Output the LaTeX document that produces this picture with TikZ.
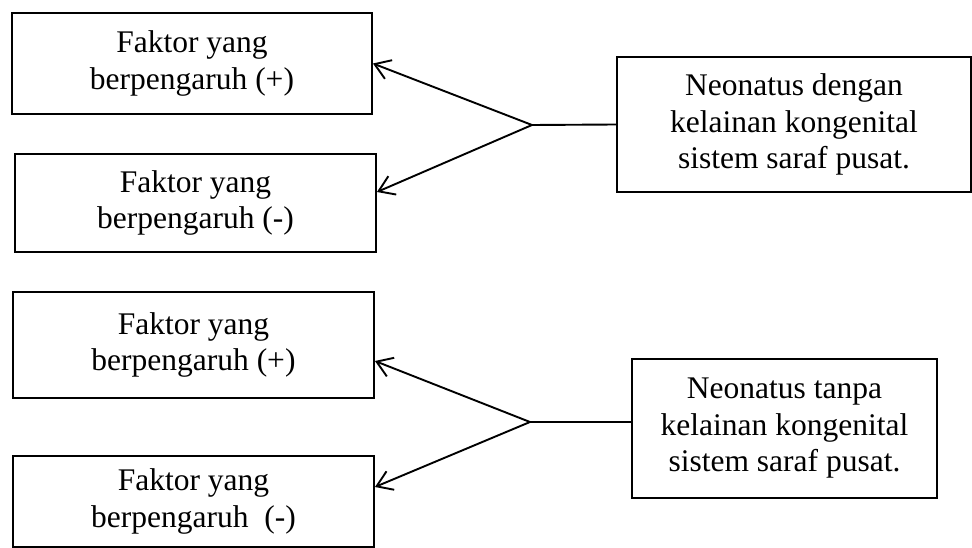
\documentclass[tikz,border=0pt]{standalone}
\usepackage{fontspec}
\setmainfont{Liberation Serif}
\usepackage{tikz}
\usetikzlibrary{arrows.meta}

\begin{document}
\begin{tikzpicture}[x=1pt,y=-1pt,
  kotak/.style={draw,line width=1.9pt,align=center,inner sep=0pt,font=\fontsize{31.5}{36.5}\selectfont},
  panah/.style={line width=1.9pt,-{Straight Barb[length=15pt,width=20pt]}}]
\useasboundingbox (0,0) rectangle (972,548);
\node[kotak,minimum width=360pt,minimum height=101pt] (plus1) at (192,63.5) {Faktor yang\\berpengaruh (+)};
\node[kotak,minimum width=361pt,minimum height=98pt] (min1) at (195.5,203) {Faktor yang\\berpengaruh (-)};
\node[kotak,minimum width=354pt,minimum height=135pt] (neo1) at (794,124.5) {Neonatus dengan\\kelainan kongenital\\sistem saraf pusat.};
\node[kotak,minimum width=361pt,minimum height=106pt] (plus2) at (193.5,345) {Faktor yang\\berpengaruh (+)};
\node[kotak,minimum width=361pt,minimum height=91pt] (min2) at (193.5,501.5) {Faktor yang\\berpengaruh\ \ (-)};
\node[kotak,minimum width=305pt,minimum height=139pt] (neo2) at (784.5,428.5) {Neonatus tanpa\\kelainan kongenital\\sistem saraf pusat.};
\coordinate (cab1) at (532,125);
\coordinate (cab2) at (530,422);
\draw[line width=1.9pt] (neo1.west) -- (cab1);
\draw[panah] (cab1) -- (plus1.east);
\draw[panah] (cab1) -- ([yshift=11pt]min1.east);
\draw[line width=1.9pt] ([yshift=6.5pt]neo2.west) -- (cab2);
\draw[panah] (cab2) -- ([yshift=-16pt]plus2.east);
\draw[panah] (cab2) -- ([yshift=14.5pt]min2.east);
\end{tikzpicture}
\end{document}
